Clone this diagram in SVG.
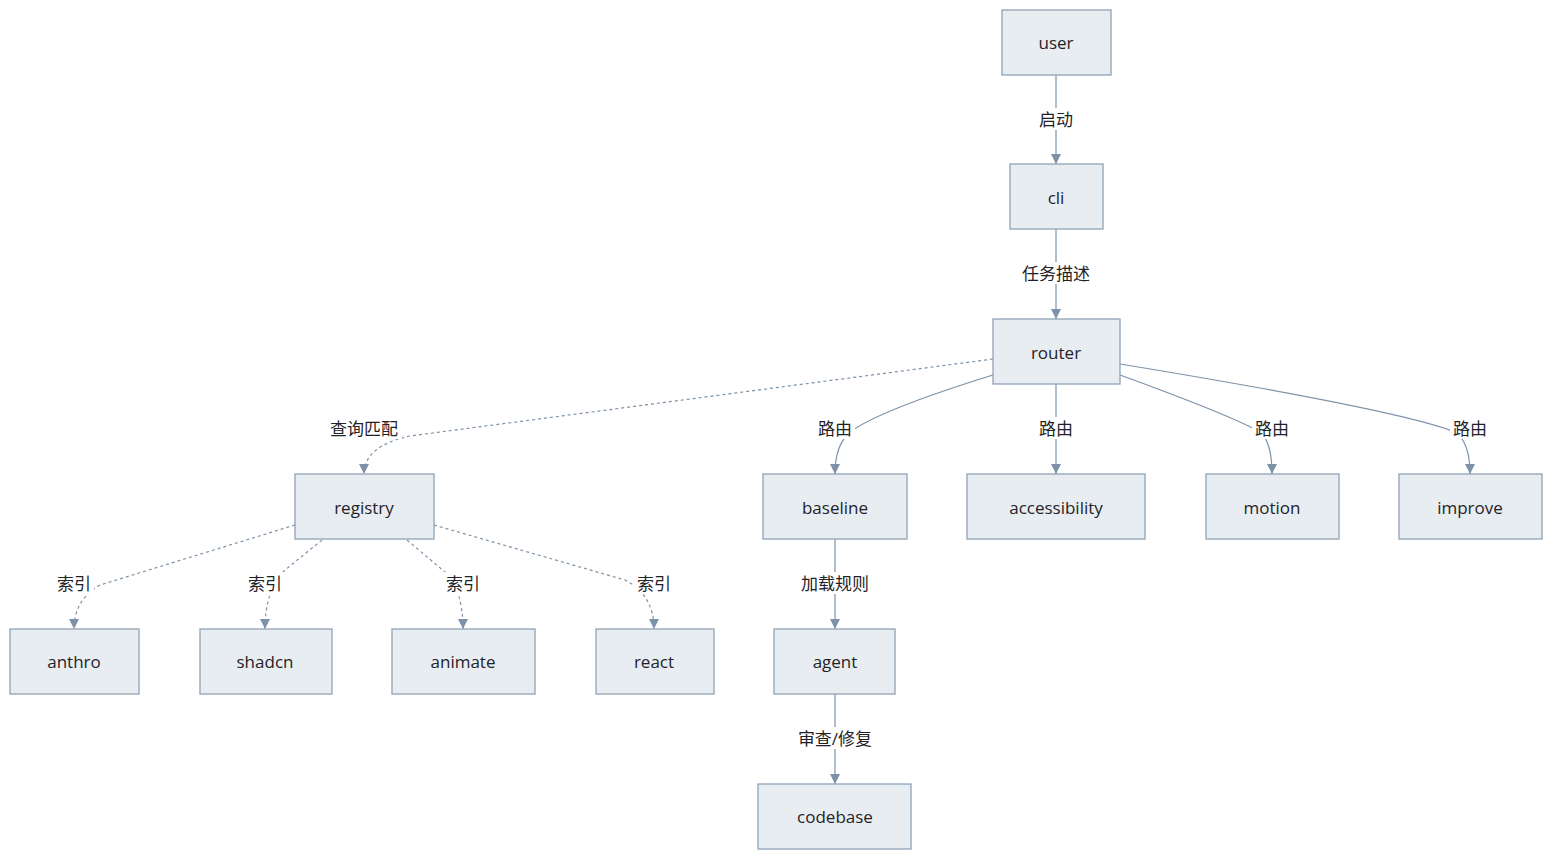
<svg xmlns="http://www.w3.org/2000/svg" width="1568" height="868" viewBox="0 0 1568 868">
<style>
.n rect{fill:#e8edf2;stroke:#90a3b6;stroke-width:1.3}
text{font-family:"Open Sans","Noto Sans","Noto Sans CJK SC",sans-serif;font-size:17px;fill:#1f2328;text-anchor:middle;dominant-baseline:central}
.e path{fill:none;stroke:#7d92a8;stroke-width:1.2;marker-end:url(#a)}
.e path.d{stroke-dasharray:3 3}
.l rect{fill:#fff}
</style>
<defs><marker id="a" viewBox="0 0 10 10" refX="10" refY="5" markerWidth="10" markerHeight="10" markerUnits="userSpaceOnUse" orient="auto"><path d="M0,0 L10,5 L0,10 z" fill="#7d92a8"/></marker></defs>
<rect width="1568" height="868" fill="#fff"/>
<g class="e" id="connectors">
<path d="M1056,75 V164"/>
<path d="M1056,229 V319"/>
<path class="d" d="M993,359 L410,436 Q364,446 364,474"/>
<path d="M993,375 Q880,410 850,432 Q835,445 835,474"/>
<path d="M1056,384 V474"/>
<path d="M1120,375 Q1230,415 1260,432 Q1272,442 1272,474"/>
<path d="M1120,364 Q1400,410 1455,432 Q1470,442 1470,474"/>
<path class="d" d="M295,525 L100,585 Q74,600 74,629"/>
<path class="d" d="M322,540 L285,570 Q265,590 265,629"/>
<path class="d" d="M407,540 L445,572 Q463,590 463,629"/>
<path class="d" d="M434,525 L625,580 Q654,595 654,629"/>
<path d="M835,539 V629"/>
<path d="M835,694 V784"/>
</g>
<g class="l" id="labels">
<rect x="1036" y="108" width="40" height="22"/><text x="1056" y="119">启动</text>
<rect x="1018" y="262" width="76" height="22"/><text x="1056" y="273">任务描述</text>
<rect x="326" y="417" width="76" height="22"/><text x="364" y="428">查询匹配</text>
<rect x="815" y="417" width="40" height="22"/><text x="835" y="428">路由</text>
<rect x="1036" y="417" width="40" height="22"/><text x="1056" y="428">路由</text>
<rect x="1252" y="417" width="40" height="22"/><text x="1272" y="428">路由</text>
<rect x="1450" y="417" width="40" height="22"/><text x="1470" y="428">路由</text>
<rect x="54" y="572" width="40" height="22"/><text x="74" y="583">索引</text>
<rect x="245" y="572" width="40" height="22"/><text x="265" y="583">索引</text>
<rect x="443" y="572" width="40" height="22"/><text x="463" y="583">索引</text>
<rect x="634" y="572" width="40" height="22"/><text x="654" y="583">索引</text>
<rect x="796" y="572" width="78" height="22"/><text x="835" y="583">加载规则</text>
<rect x="790" y="727" width="90" height="22"/><text x="835" y="738">审查/修复</text>
</g>
<g class="n" id="user"><rect x="1002" y="10" width="109" height="65"/><text x="1056" y="42">user</text></g>
<g class="n" id="cli"><rect x="1010" y="164" width="93" height="65"/><text x="1056" y="197">cli</text></g>
<g class="n" id="router"><rect x="993" y="319" width="127" height="65"/><text x="1056" y="352">router</text></g>
<g class="n" id="registry"><rect x="295" y="474" width="139" height="65"/><text x="364" y="507">registry</text></g>
<g class="n" id="baseline"><rect x="763" y="474" width="144" height="65"/><text x="835" y="507">baseline</text></g>
<g class="n" id="accessibility"><rect x="967" y="474" width="178" height="65"/><text x="1056" y="507">accessibility</text></g>
<g class="n" id="motion"><rect x="1206" y="474" width="133" height="65"/><text x="1272" y="507">motion</text></g>
<g class="n" id="improve"><rect x="1399" y="474" width="143" height="65"/><text x="1470" y="507">improve</text></g>
<g class="n" id="anthro"><rect x="10" y="629" width="129" height="65"/><text x="74" y="661">anthro</text></g>
<g class="n" id="shadcn"><rect x="200" y="629" width="132" height="65"/><text x="265" y="661">shadcn</text></g>
<g class="n" id="animate"><rect x="392" y="629" width="143" height="65"/><text x="463" y="661">animate</text></g>
<g class="n" id="react"><rect x="596" y="629" width="118" height="65"/><text x="654" y="661">react</text></g>
<g class="n" id="agent"><rect x="774" y="629" width="121" height="65"/><text x="835" y="661">agent</text></g>
<g class="n" id="codebase"><rect x="758" y="784" width="153" height="65"/><text x="835" y="816">codebase</text></g>
</svg>
